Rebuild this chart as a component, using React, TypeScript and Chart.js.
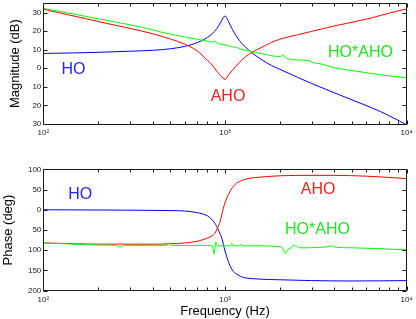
import React, { useEffect, useRef } from 'react';
import { Chart, registerables } from 'chart.js';

Chart.register(...registerables);

const FONT = '"Liberation Sans", Arial, Helvetica, sans-serif';
const BLUE = '#0000ff';
const RED = '#ff0000';
const GREEN = '#00ff00';
const TEXT_BLUE = '#2424ff';
const TEXT_RED = '#ff1c1c';
const TEXT_GREEN = '#1ee61e';
const INK = '#1a1a1a';

// ---------- Magnitude (dB) ----------
const hoMagFreq = [100, 150, 200, 300, 400, 500, 600, 700, 800, 850, 900, 950, 1000, 1050, 1100, 1200, 1300, 1400, 1600, 1800, 2000, 2500, 3000, 4000, 5000, 6500, 8000, 10000];
const hoMagDb = [8.0, 8.3, 8.6, 9.2, 9.7, 10.5, 11.8, 13.7, 16.6, 18.6, 21.3, 25.0, 28.2, 24.8, 20.8, 15.0, 11.3, 8.5, 4.5, 1.5, -0.5, -4.8, -8.2, -13.2, -17.0, -21.5, -25.5, -30.5];

const ahoMagFreq = [100, 130, 170, 220, 300, 400, 500, 600, 700, 800, 850, 900, 950, 1000, 1050, 1100, 1200, 1300, 1400, 1600, 1800, 2000, 2500, 3000, 4000, 5000, 6500, 8000, 10000];
const ahoMagDb = [31.8, 29.3, 26.8, 24.3, 21.5, 18.6, 15.8, 13.0, 9.5, 4.3, 1.8, -1.5, -4.0, -6.0, -3.3, -1.0, 3.2, 6.3, 8.4, 11.4, 13.9, 15.6, 18.0, 19.9, 22.8, 24.8, 27.3, 29.7, 32.0];

const hoahoMagFreq = [100, 130, 170, 220, 300, 400, 457, 550, 700, 800, 860, 880, 900, 1000, 1065, 1100, 1150, 1200, 1400, 1600, 1800, 2000, 2100, 2150, 2250, 2500, 2900, 3050, 3300, 4000, 5000, 6500, 8000, 10000];
const hoahoMagDb = [32.3, 30.2, 28.0, 25.9, 23.4, 20.7, 19.2, 17.6, 15.7, 14.6, 14.0, 14.8, 13.8, 12.6, 11.9, 11.5, 11.4, 10.6, 9.0, 7.9, 6.8, 6.3, 7.3, 5.6, 5.0, 4.5, 4.1, 3.0, 2.6, 0.3, -1.2, -2.9, -4.1, -5.1];

// ---------- Phase (deg) ----------
const hoPhFreq = [100, 200, 300, 400, 500, 600, 700, 750, 800, 850, 900, 930, 960, 1000, 1040, 1070, 1110, 1180, 1260, 1500, 2000, 3000, 5000, 10000];
const hoPhDeg = [0, -0.5, -1, -1.5, -2, -3, -7, -10, -15, -25, -41, -55, -70, -102, -126, -140, -152, -161, -167, -171, -173, -175, -176, -175];

const ahoPhFreq = [100, 150, 200, 300, 400, 500, 600, 700, 800, 850, 880, 910, 940, 960, 980, 1000, 1025, 1065, 1100, 1160, 1250, 1370, 1600, 2000, 3000, 4000, 6000, 8000, 10000];
const ahoPhDeg = [-82, -84, -85, -85, -85, -84, -82, -78, -70, -64, -58, -45, -29, -13, 4, 17, 30, 45, 55, 66, 73, 78, 81, 84, 85, 85, 83, 80, 77];

const hoahoPhFreq = [100, 150, 200, 250, 264, 280, 400, 480, 495, 510, 600, 700, 800, 850, 871, 890, 910, 1000, 1070, 1090, 1110, 1200, 1220, 1240, 1500, 2000, 2050, 2100, 2140, 2200, 2280, 2420, 2550, 2800, 3200, 3600, 3800, 4000, 5000, 7000, 10000];
const hoahoPhDeg = [-82, -85, -87, -88, -92, -88, -88, -88, -81, -88, -88, -88, -88, -89, -109, -80, -89, -89, -89, -83, -89, -89, -85, -89, -89, -91, -92, -100, -108, -100, -95, -88, -94, -94, -93, -92, -89, -92, -94, -96, -99];

// ---------- Ticks ----------
const xTickValues = [100, 1000, 10000];
const xTickLabels = ['10²', '10³', '10⁴'];
const magTickValues = [-30, -20, -10, 0, 10, 20, 30];
const magTickLabels = ['30', '20', '10', '0', '10', '20', '30'];
const phaseTickValues = [-200, -150, -100, -50, 0, 50, 100];
const phaseTickLabels = ['200', '150', '100', '50', '0', '50', '100'];

// ---------- In-plot text labels (data coordinates) ----------
const magLabels = [
  { text: 'HO', color: TEXT_BLUE, x: 126, y: 0 },
  { text: 'AHO', color: TEXT_RED, x: 834, y: -14.5 },
  { text: 'HO*AHO', color: TEXT_GREEN, x: 3690, y: 9.4 },
];
const phaseLabels = [
  { text: 'HO', color: TEXT_BLUE, x: 137, y: 40 },
  { text: 'AHO', color: TEXT_RED, x: 2612, y: 52 },
  { text: 'HO*AHO', color: TEXT_GREEN, x: 2140, y: -45 },
];

const pts = (xs: number[], ys: number[]) => xs.map((x, i) => ({ x, y: ys[i] }));

const framePlugin = {
  id: 'matlabFrame',
  afterDraw(chart: any, _args: any, opts: any) {
    const { ctx, chartArea: a, scales } = chart;
    const xs = scales.x;
    const ys = scales.y;
    const L = Math.floor(a.left) + 0.5;
    const R = Math.floor(a.right) + 0.5;
    const T = Math.floor(a.top) + 0.5;
    const B = Math.floor(a.bottom) + 0.5;
    ctx.save();
    ctx.strokeStyle = INK;
    ctx.lineWidth = 1;
    ctx.beginPath();
    ctx.rect(L, T, R - L, B - T);
    // x ticks (log, major + minor)
    for (let dec = 100; dec <= 10000; dec *= 10) {
      for (let k = 1; k <= 9; k++) {
        const v = dec * k;
        if (v < 100 || v > 10000) continue;
        const px = Math.round(xs.getPixelForValue(v)) + 0.5;
        const len = k === 1 ? 4 : 3;
        ctx.moveTo(px, B);
        ctx.lineTo(px, B - len);
        ctx.moveTo(px, T);
        ctx.lineTo(px, T + len);
      }
    }
    // y ticks
    (opts.yTicks || []).forEach((v: number) => {
      const py = Math.round(ys.getPixelForValue(v)) + 0.5;
      ctx.moveTo(L, py);
      ctx.lineTo(L + 4, py);
      ctx.moveTo(R, py);
      ctx.lineTo(R - 4, py);
    });
    ctx.stroke();
    // labels
    const fs = 16;
    ctx.font = `${fs}px ${FONT}`;
    ctx.textAlign = 'left';
    ctx.textBaseline = 'alphabetic';
    (opts.labels || []).forEach((l: any) => {
      ctx.fillStyle = l.color;
      const px = xs.getPixelForValue(l.x);
      const py = ys.getPixelForValue(l.y) + fs * 0.36;
      ctx.fillText(l.text, px, py);
    });
    ctx.restore();
  },
};

const lineDs = (data: any, color: string) => ({
  data,
  borderColor: color,
  backgroundColor: color,
  borderWidth: 1,
  pointRadius: 0,
  fill: false,
  cubicInterpolationMode: 'monotone' as const,
});

const tickFont = { family: FONT, size: 8 };
const titleFont = { family: FONT, size: 13 };

function xScale(height: number, withTitle: boolean) {
  return {
    type: 'logarithmic',
    min: 100,
    max: 10000,
    afterBuildTicks: (s: any) => {
      s.ticks = xTickValues.map((v) => ({ value: v }));
    },
    afterFit: (s: any) => {
      s.height = height;
      s.paddingLeft = 0;
      s.paddingRight = 0;
    },
    grid: { display: false, drawTicks: false },
    border: { display: false },
    ticks: {
      callback: (_v: any, i: number) => xTickLabels[i],
      font: tickFont,
      color: INK,
      padding: 4,
      maxRotation: 0,
      autoSkip: false,
    },
    title: withTitle
      ? { display: true, text: 'Frequency (Hz)', font: titleFont, color: '#000', padding: { top: 0, bottom: 0.2 } }
      : { display: false },
  };
}

function yScale(min: number, max: number, values: number[], labels: string[], title: string, titlePad: number) {
  return {
    type: 'linear',
    min,
    max,
    afterBuildTicks: (s: any) => {
      s.ticks = values.map((v) => ({ value: v }));
    },
    afterFit: (s: any) => {
      s.width = 43.3;
      s.paddingTop = 0;
      s.paddingBottom = 0;
    },
    grid: { display: false, drawTicks: false },
    border: { display: false },
    ticks: {
      callback: (_v: any, i: number) => labels[i],
      font: tickFont,
      color: INK,
      padding: 2,
      autoSkip: false,
    },
    title: { display: true, text: title, font: titleFont, color: '#000', padding: { top: titlePad, bottom: 0 } },
  };
}

export default function App() {
  const topRef = useRef<HTMLCanvasElement>(null);
  const botRef = useRef<HTMLCanvasElement>(null);

  useEffect(() => {
    const top = new Chart(topRef.current as HTMLCanvasElement, {
      type: 'line',
      data: {
        datasets: [
          lineDs(pts(hoahoMagFreq, hoahoMagDb), GREEN),
          lineDs(pts(ahoMagFreq, ahoMagDb), RED),
          lineDs(pts(hoMagFreq, hoMagDb), BLUE),
        ],
      },
      options: {
        responsive: false,
        animation: false,
        events: [],
        layout: { padding: { left: 0, top: 3.3, right: 9.3, bottom: 0 } },
        plugins: {
          legend: { display: false },
          tooltip: { enabled: false },
          matlabFrame: { yTicks: magTickValues, labels: magLabels },
        } as any,
        scales: {
          x: xScale(26, false) as any,
          y: yScale(-30, 35, magTickValues, magTickLabels, 'Magnitude (dB)', 7.2) as any,
        },
      },
      plugins: [framePlugin],
    });

    const bot = new Chart(botRef.current as HTMLCanvasElement, {
      type: 'line',
      data: {
        datasets: [
          lineDs(pts(hoahoPhFreq, hoahoPhDeg), GREEN),
          lineDs(pts(ahoPhFreq, ahoPhDeg), RED),
          lineDs(pts(hoPhFreq, hoPhDeg), BLUE),
        ],
      },
      options: {
        responsive: false,
        animation: false,
        events: [],
        layout: { padding: { left: 0, top: 19.3, right: 9.3, bottom: 0 } },
        plugins: {
          legend: { display: false },
          tooltip: { enabled: false },
          matlabFrame: { yTicks: phaseTickValues, labels: phaseLabels },
        } as any,
        scales: {
          x: xScale(28.3, true) as any,
          y: yScale(-200, 100, phaseTickValues, phaseTickLabels, 'Phase (deg)', 0.2) as any,
        },
      },
      plugins: [framePlugin],
    });

    return () => {
      top.destroy();
      bot.destroy();
    };
  }, []);

  return (
    <div style={{ position: 'absolute', left: 0, top: 0, width: 416, height: 319, background: '#fff' }}>
      <canvas ref={topRef} width={416} height={150} style={{ display: 'block', width: 416, height: 150 }} />
      <canvas ref={botRef} width={416} height={169} style={{ display: 'block', width: 416, height: 169 }} />
    </div>
  );
}
